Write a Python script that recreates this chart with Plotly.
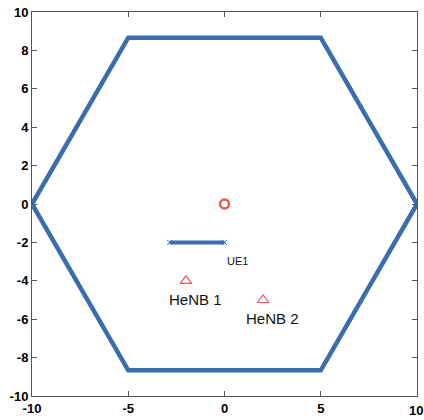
import plotly.graph_objects as go

hex_x = [-10, -5, 5, 10, 5, -5, -10]
hex_y = [0, 8.66, 8.66, 0, -8.66, -8.66, 0]
ue_x = [-2.85, 0]
ue_y = [-2, -2]
bs_x = [0]
bs_y = [0]
henb_x = [-2, 2]
henb_y = [-4, -5]
labels = [("UE1", 0, -2.95, 11), ("HeNB 1", -3, -4.95, 15), ("HeNB 2", 1, -5.95, 15)]
ticks = [-10, -8, -6, -4, -2, 0, 2, 4, 6, 8, 10]
xticks = [-10, -5, 0, 5, 10]
xticktext = ["-10", "-5", "0", "5", ""]
last_xlabel = "10"

blue = "#3a6db0"
red = "#e8595a"

fig = go.Figure()
fig.add_trace(go.Scatter(x=hex_x, y=hex_y, mode="lines",
                         line=dict(color=blue, width=4.5), hoverinfo="skip"))
fig.add_trace(go.Scatter(x=ue_x, y=ue_y, mode="lines+markers",
                         line=dict(color=blue, width=4),
                         marker=dict(symbol="x-thin", size=5, line=dict(color=blue, width=1))))
fig.add_trace(go.Scatter(x=bs_x, y=bs_y, mode="markers",
                         marker=dict(symbol="circle-open", size=9, color=red, line=dict(width=2.5, color=red))))
fig.add_trace(go.Scatter(x=henb_x, y=henb_y, mode="markers",
                         marker=dict(symbol="triangle-up-open", size=10, color=red, line=dict(width=1.2, color=red))))
for t, x, y, s in labels:
    fig.add_annotation(x=x, y=y, text=t, showarrow=False, xanchor="left", yanchor="middle",
                       font=dict(family="Liberation Sans", size=s, color="#111"))
fig.add_annotation(xref="paper", yref="paper", x=1, y=0, xshift=8, yshift=-5, text=last_xlabel,
                   showarrow=False, xanchor="right", yanchor="top",
                   font=dict(family="Liberation Sans", size=13, color="#000", weight="bold"))

axis_common = dict(showgrid=False, zeroline=False, showline=True, linecolor="#555", linewidth=1,
                   mirror="ticks", ticks="inside", ticklen=5, tickcolor="#555", automargin=False,
                   tickfont=dict(family="Liberation Sans", size=13, color="#000", weight="bold"))
fig.update_xaxes(range=[-10, 10], tickvals=xticks, ticktext=xticktext, ticklabelstandoff=0, **axis_common)
fig.update_yaxes(range=[-10, 10], tickvals=ticks, ticktext=[str(v) for v in ticks], ticklabelstandoff=0, **axis_common)
fig.update_layout(width=424, height=420, showlegend=False, plot_bgcolor="white", paper_bgcolor="white",
                  margin=dict(l=32, r=7, t=12, b=24))
fig.write_html("out.html", config={"displayModeBar": False},
               post_script="document.body.style.margin='0';document.body.style.overflow='hidden';")
